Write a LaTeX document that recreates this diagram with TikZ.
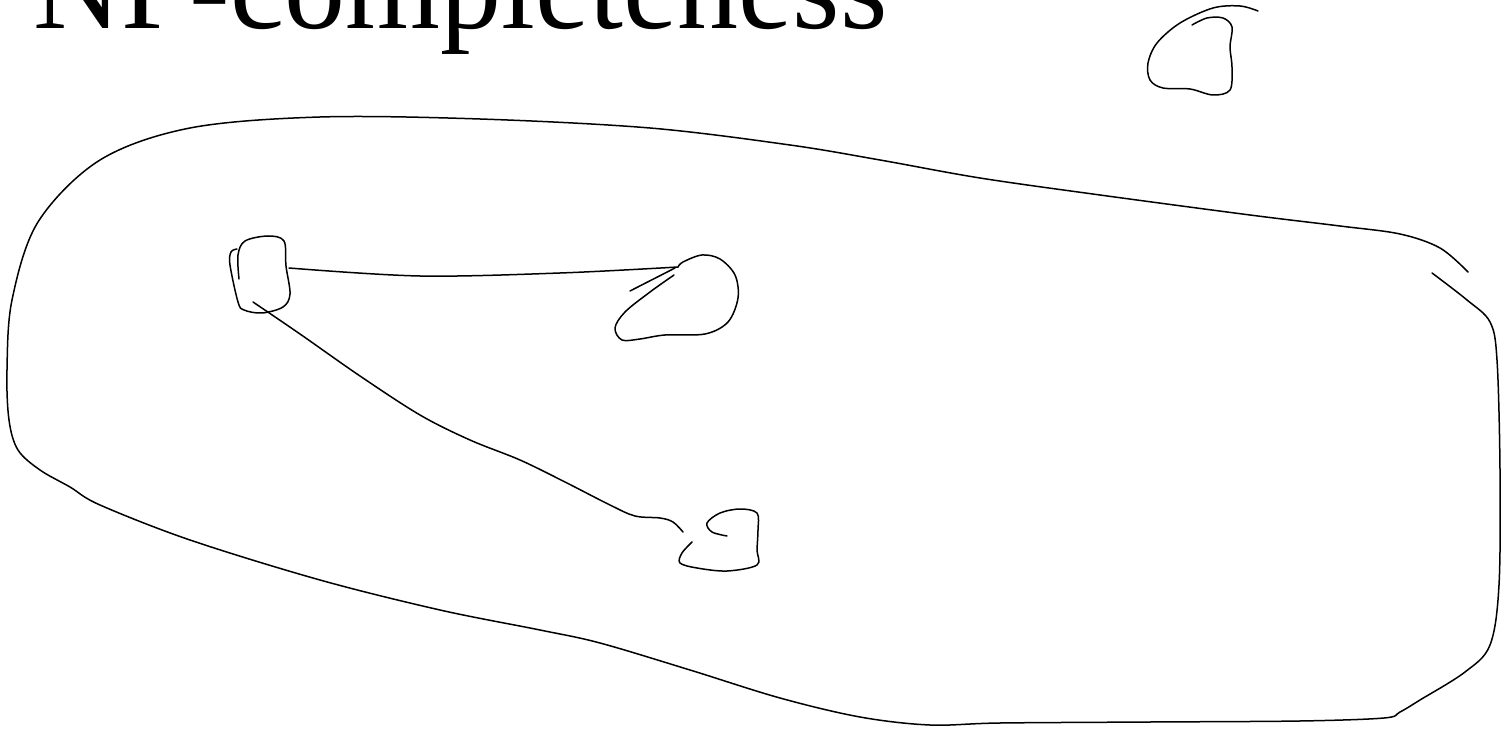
\documentclass[tikz,border=0pt]{standalone}
\usepackage{fontspec}
\setmainfont{Liberation Serif}
\usepackage{tikz}
\usetikzlibrary{calc}

\begin{document}
\begin{tikzpicture}[x=1pt, y=-1pt, line width=1.5pt, line cap=round, line join=round,
		sketch/.style={smooth, tension=0.55}]
			\useasboundingbox (0,0) rectangle (1508,735);
			\clip (0,0) rectangle (1508,735);
			\node[anchor=base west, inner sep=0pt, font=\fontsize{122}{122}\selectfont] (title) at (33,29) {NP-completeness};
			\coordinate (A) at (260,276);
			\coordinate (B) at (680,300);
			\coordinate (C) at (720,540);
			\coordinate (Ae) at (289,268);
			\coordinate (As) at (253,302);
			\coordinate (Be) at (678,267);
			\coordinate (Ce) at (683,532);
			% big region
			\draw plot[sketch] coordinates {(1432,273) (1467,300) (1490,322) (1497,360) (1500,470) (1499,585) (1490,645) (1465,672) (1420,700) (1400,712) (1384,718) (1300,721) (1150,722) (1000,723) (930,725) (860,717) (780,698) (690,670) (600,643) (540,630) (440,610) (320,580) (190,540) (100,505) (70,487) (40,470) (18,450) (9,420) (7,370) (12,300) (38,222) (100,160) (190,128) (320,117) (480,119) (650,128) (790,145) (880,160) (980,178) (1100,195) (1250,215) (1340,226) (1400,234) (1440,248) (1468,272)};
			% blob outside
			\draw plot[sketch] coordinates {(1258,11) (1240,6) (1213,8) (1180,23) (1157,43) (1148,63) (1150,80) (1163,88) (1190,89) (1213,95) (1230,90) (1232,67) (1230,47) (1232,27) (1223,18) (1207,18) (1192,25)};
			% vertices
			\draw plot[sketch] coordinates {(239,279) (238,255) (245,241) (268,236) (284,241) (286,266) (290,294) (283,307) (262,313) (244,310) (238,302) (230,265) (231,252) (237,249)};
			\draw plot[sketch] coordinates {(674,275) (650,292) (625,312) (615,328) (622,340) (640,339) (665,335) (705,334) (728,322) (738,298) (735,275) (720,259) (702,255) (683,262) (Be)};
			\draw plot[sketch] coordinates {(692,542) (682,553) (680,563) (697,568) (727,571) (757,565) (757,550) (758,530) (757,513) (740,509) (720,513) (707,523) (712,532) (727,536)};
			% edges
			\draw plot[sketch] coordinates {(Ae) (420,276) (560,273) (Be)};
			\draw (630,291) -- (675,268);
			\draw plot[sketch] coordinates {(As) (300,334) (360,376) (420,415) (470,440) (520,460) (565,482) (610,505) (635,516) (660,518) (673,522) (Ce)};
		\end{tikzpicture}
\end{document}
